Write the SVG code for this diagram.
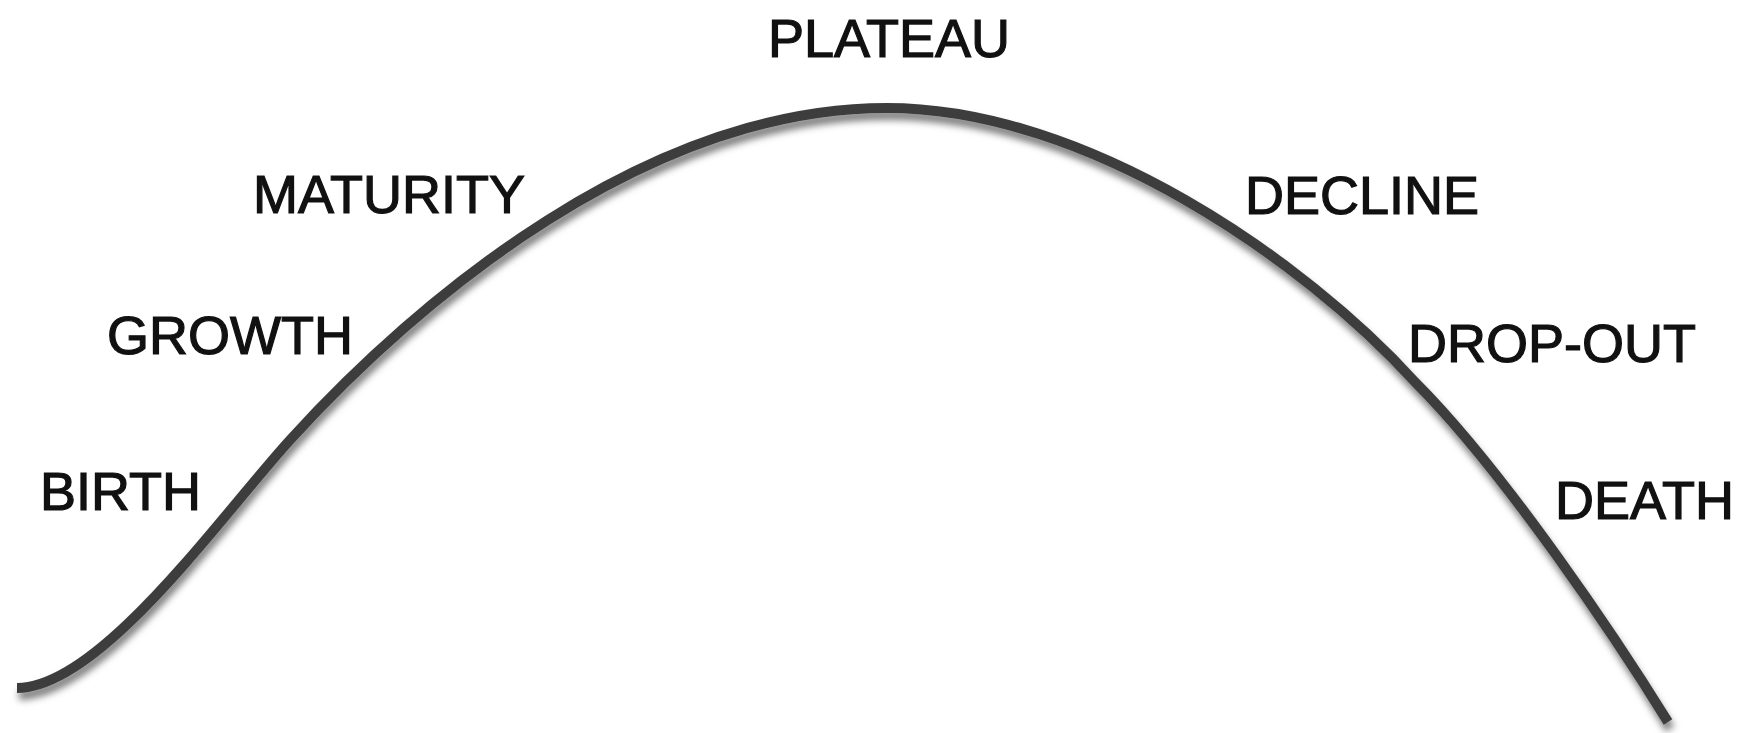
<svg xmlns="http://www.w3.org/2000/svg" width="1743" height="733" viewBox="0 0 1743 733">
  <style>
    .lbl { font-family: "Liberation Sans", Arial, Helvetica, sans-serif; font-size: 54px; fill: #111; stroke: #111; stroke-width: 1.2px; }
    .curve { fill: none; stroke: #3e3e3e; stroke-width: 10; stroke-linecap: butt; stroke-linejoin: round; }
  </style>
  <defs>
    <filter id="shadow" x="-5%" y="-10%" width="110%" height="130%">
      <feDropShadow dx="2" dy="7" stdDeviation="3.5" flood-color="#000" flood-opacity="0.5"/>
    </filter>
  </defs>
  <rect width="1743" height="733" fill="#ffffff"/>
  <g id="connectors">
    <path class="curve" filter="url(#shadow)" d="M 17 688 C 100 688, 220 517, 290 440 C 420 297, 647 108, 887 108 C 1087 108, 1305 261, 1415 382 C 1505 472, 1618 641, 1668 722"/>
  </g>
  <g id="plateau"><text class="lbl" x="768" y="57">PLATEAU</text></g>
  <g id="maturity"><text class="lbl" x="253" y="213">MATURITY</text></g>
  <g id="growth"><text class="lbl" x="107" y="354">GROWTH</text></g>
  <g id="birth"><text class="lbl" x="40" y="510">BIRTH</text></g>
  <g id="decline"><text class="lbl" x="1245" y="214">DECLINE</text></g>
  <g id="drop-out"><text class="lbl" x="1408" y="362">DROP-OUT</text></g>
  <g id="death"><text class="lbl" x="1555" y="519">DEATH</text></g>
</svg>
